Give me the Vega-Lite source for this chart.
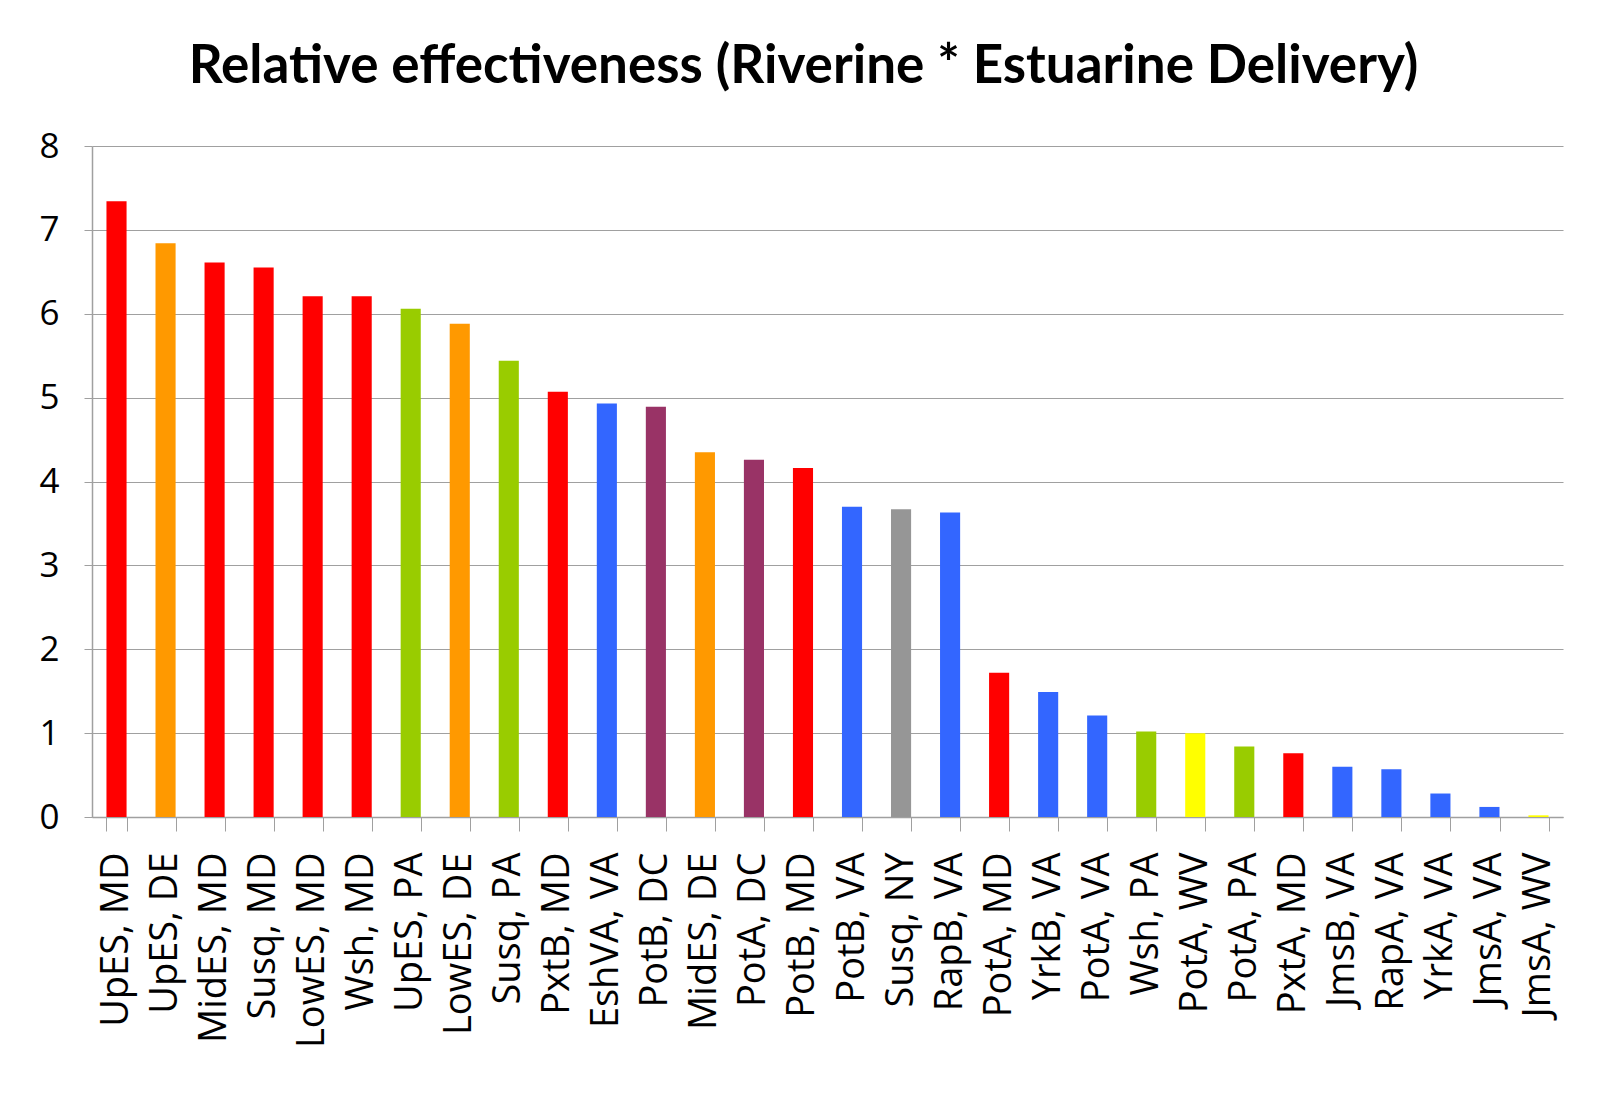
{
  "$schema": "https://vega.github.io/schema/vega-lite/v6.json",
  "autosize": "none",
  "width": 1471,
  "height": 671,
  "padding": {"left": 92, "top": 146, "right": 41, "bottom": 276},
  "background": "white",
  "title": {
    "text": "Relative effectiveness (Riverine * Estuarine Delivery)",
    "font": "Lato",
    "fontWeight": "bold",
    "fontSize": 53,
    "color": "#000000",
    "anchor": "middle",
    "frame": "group",
    "baseline": "alphabetic",
    "offset": -7,
    "dx": -24
  },
  "data": {
    "values": [
      {"site": "UpES, MD", "state": "MD", "value": 7.34},
      {"site": "UpES, DE", "state": "DE", "value": 6.84},
      {"site": "MidES, MD", "state": "MD", "value": 6.61},
      {"site": "Susq, MD", "state": "MD", "value": 6.55},
      {"site": "LowES, MD", "state": "MD", "value": 6.21},
      {"site": "Wsh, MD", "state": "MD", "value": 6.21},
      {"site": "UpES, PA", "state": "PA", "value": 6.06},
      {"site": "LowES, DE", "state": "DE", "value": 5.88},
      {"site": "Susq, PA", "state": "PA", "value": 5.44},
      {"site": "PxtB, MD", "state": "MD", "value": 5.07},
      {"site": "EshVA, VA", "state": "VA", "value": 4.93},
      {"site": "PotB, DC", "state": "DC", "value": 4.89},
      {"site": "MidES, DE", "state": "DE", "value": 4.35},
      {"site": "PotA, DC", "state": "DC", "value": 4.26},
      {"site": "PotB, MD", "state": "MD", "value": 4.16},
      {"site": "PotB, VA", "state": "VA", "value": 3.70},
      {"site": "Susq, NY", "state": "NY", "value": 3.67},
      {"site": "RapB, VA", "state": "VA", "value": 3.63},
      {"site": "PotA, MD", "state": "MD", "value": 1.72},
      {"site": "YrkB, VA", "state": "VA", "value": 1.49},
      {"site": "PotA, VA", "state": "VA", "value": 1.21},
      {"site": "Wsh, PA", "state": "PA", "value": 1.02},
      {"site": "PotA, WV", "state": "WV", "value": 1.00},
      {"site": "PotA, PA", "state": "PA", "value": 0.84},
      {"site": "PxtA, MD", "state": "MD", "value": 0.76},
      {"site": "JmsB, VA", "state": "VA", "value": 0.60},
      {"site": "RapA, VA", "state": "VA", "value": 0.57},
      {"site": "YrkA, VA", "state": "VA", "value": 0.28},
      {"site": "JmsA, VA", "state": "VA", "value": 0.12},
      {"site": "JmsA, WV", "state": "WV", "value": 0.02}
    ]
  },
  "mark": {"type": "bar"},
  "encoding": {
    "x": {
      "field": "site",
      "type": "nominal",
      "sort": null,
      "scale": {"paddingInner": 0.59, "paddingOuter": 0.295},
      "axis": {
        "title": null,
        "labelAngle": -90,
        "labelAlign": "right",
        "labelBaseline": "middle",
        "labelFont": "Open Sans",
        "labelFontSize": 38,
        "labelColor": "#000000",
        "labelPadding": 21,
        "labelLimit": 0,
        "tickSize": 14,
        "tickBand": "extent",
        "tickColor": "#A0A0A0",
        "domainColor": "#A0A0A0",
        "domainWidth": 1.5,
        "labelOverlap": false,
        "grid": false
      }
    },
    "y": {
      "field": "value",
      "type": "quantitative",
      "scale": {"domain": [0, 8], "nice": false},
      "axis": {
        "title": null,
        "values": [0, 1, 2, 3, 4, 5, 6, 7, 8],
        "labelFont": "Open Sans",
        "labelFontSize": 35,
        "labelColor": "#000000",
        "labelPadding": 25,
        "tickSize": 8,
        "tickColor": "#A0A0A0",
        "domainColor": "#A0A0A0",
        "domainWidth": 1.5,
        "gridColor": "#A0A0A0",
        "gridWidth": 1.2
      }
    },
    "color": {
      "field": "state",
      "type": "nominal",
      "scale": {
        "domain": ["MD", "DE", "PA", "VA", "DC", "NY", "WV"],
        "range": ["#FF0000", "#FF9900", "#99CC00", "#3366FF", "#993366", "#969696", "#FFFF00"]
      },
      "legend": null
    }
  },
  "config": {
    "view": {"stroke": null}
  }
}
